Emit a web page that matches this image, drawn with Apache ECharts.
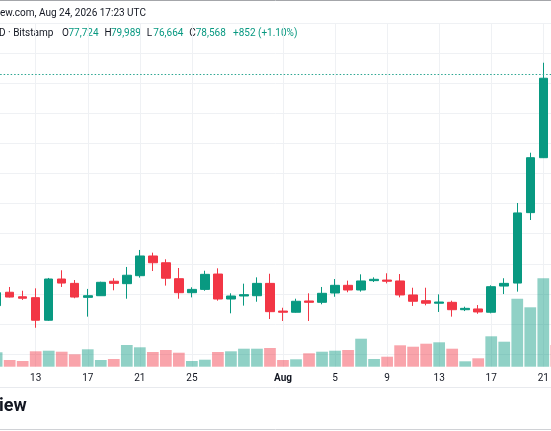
<!DOCTYPE html>
<html>
<head>
<meta charset="utf-8">
<script src="https://cdn.jsdelivr.net/npm/echarts/dist/echarts.min.js"></script>
<style>
  html, body { margin: 0; padding: 0; background: #fff; }
  #chart { width: 551px; height: 431px; }
</style>
</head>
<body>
<div id="chart"></div>
<script>
// ===== data =====
const days = [
  'Jul 10', 'Jul 11', 'Jul 12', 'Jul 13', 'Jul 14', 'Jul 15', 'Jul 16', 'Jul 17', 'Jul 18', 'Jul 19',
  'Jul 20', 'Jul 21', 'Jul 22', 'Jul 23', 'Jul 24', 'Jul 25', 'Jul 26', 'Jul 27', 'Jul 28', 'Jul 29',
  'Jul 30', 'Jul 31', 'Aug 1', 'Aug 2', 'Aug 3', 'Aug 4', 'Aug 5', 'Aug 6', 'Aug 7', 'Aug 8',
  'Aug 9', 'Aug 10', 'Aug 11', 'Aug 12', 'Aug 13', 'Aug 14', 'Aug 15', 'Aug 16', 'Aug 17', 'Aug 18',
  'Aug 19', 'Aug 20', 'Aug 21', 'Aug 22'
];

// [open, close, low, high]
const ohlc = [
  [63220, 64080, 63130, 64260],
  [64110, 63790, 63760, 64460],
  [63810, 63710, 63600, 64210],
  [63750, 62250, 61750, 64370],
  [62250, 64990, 62200, 65060],
  [64990, 64720, 64460, 65570],
  [64700, 63790, 63710, 64920],
  [63770, 63880, 62490, 64330],
  [63880, 64770, 63860, 64810],
  [64840, 64700, 64240, 65040],
  [64680, 65240, 63680, 65790],
  [65210, 66520, 65080, 66920],
  [66520, 66070, 65520, 66740],
  [66070, 65040, 64550, 66300],
  [65010, 64080, 63680, 65720],
  [64080, 64300, 63770, 64440],
  [64300, 65300, 64210, 65540],
  [65320, 63660, 63550, 65700],
  [63660, 63860, 62710, 64040],
  [63860, 63950, 63220, 64680],
  [63880, 64700, 63480, 65100],
  [64700, 62820, 62330, 65340],
  [62860, 62780, 62200, 63080],
  [62780, 63510, 62750, 63680],
  [63530, 63440, 62200, 64040],
  [63440, 64040, 63310, 64460],
  [64060, 64570, 63810, 64990],
  [64570, 64260, 64110, 64880],
  [64260, 64860, 64150, 65300],
  [64880, 64970, 64790, 65100],
  [64920, 64840, 64700, 65370],
  [64860, 63930, 63770, 65320],
  [63930, 63510, 63200, 64410],
  [63550, 63380, 63240, 64410],
  [63380, 63460, 62800, 63970],
  [63440, 62950, 62490, 63550],
  [62950, 63040, 62860, 63150],
  [63000, 62800, 62680, 63260],
  [62780, 64480, 62710, 64570],
  [64520, 64700, 63990, 65040],
  [64720, 69380, 64150, 70040],
  [69400, 73050, 68910, 73380],
  [73050, 78330, 73030, 79360],
  [79000, 78570, 76660, 79990]
];

const volume = [
  1440, 670, 570, 1540, 1600, 1500, 1240, 1740, 670, 770,
  2170, 1940, 1470, 1670, 1400, 570, 700, 1470, 1540, 1800,
  1800, 1870, 670, 740, 1340, 1500, 1600, 1670, 2800, 770,
  1000, 2140, 2000, 2300, 2440, 1800, 540, 840, 3040, 2500,
  6800, 5940, 8840, 2170
];

const tickDays = ['Jul 13', 'Jul 17', 'Jul 21', 'Jul 25', 'Aug 1', 'Aug 5', 'Aug 9', 'Aug 13', 'Aug 17', 'Aug 21'];
const tickLabels = ['13', '17', '21', '25', 'Aug', '5', '9', '13', '17', '21'];

const lastPrice = 78568;
const headerLine = 'ew.com, Aug 24, 2026 17:23 UTC';
const symbolText = 'D · Bitstamp';
const quoteKeys = ['O', 'H', 'L', 'C'];
const quoteValues = ['77,724', '79,989', '76,664', '78,568'];
const changeText = '+852 (+1.10%)';
const logoText = 'iew';

// ===== colours =====
const UP = '#089981';
const DOWN = '#f23645';
const UP_VOL = 'rgba(8,153,129,0.45)';
const DOWN_VOL = 'rgba(242,54,69,0.45)';
const TEXT = '#131722';
const GRID = '#eff1f4';
const FONT = 'Roboto, "Liberation Sans", sans-serif';

const chart = echarts.init(document.getElementById('chart'));

const volumeData = volume.map((v, i) => ({
  value: v,
  itemStyle: { color: ohlc[i][1] >= ohlc[i][0] ? UP_VOL : DOWN_VOL }
}));

const isTick = (idx, value) => tickDays.indexOf(value) >= 0;

// header / frame
const graphics = [
  { type: 'line', shape: { x1: 0, y1: 0.5, x2: 551, y2: 0.5 }, style: { stroke: '#a4a6aa', lineWidth: 1 }, z: 100 },
  { type: 'line', shape: { x1: 0, y1: 387.5, x2: 551, y2: 387.5 }, style: { stroke: '#e8eaee', lineWidth: 1 } },
  { type: 'line', shape: { x1: 0, y1: 429.5, x2: 551, y2: 429.5 }, style: { stroke: '#d0d2d6', lineWidth: 1 } },
  { type: 'text', left: 0, top: 8, style: { text: headerLine, fill: TEXT, font: '10px ' + FONT } },
  { type: 'text', left: -1, top: 28, style: { text: symbolText, fill: TEXT, font: '10px ' + FONT } },
  { type: 'text', left: 233, top: 28, style: { text: changeText, fill: UP, font: '10px ' + FONT } },
  { type: 'text', left: -1, top: 397, style: { text: logoText, fill: TEXT, font: 'bold 18px ' + FONT } }
];
quoteKeys.forEach((k, i) => {
  const x = 62 + i * 42.4;
  graphics.push({ type: 'text', left: x, top: 28, style: { text: k, fill: TEXT, font: '10px ' + FONT } });
  graphics.push({ type: 'text', left: x + 6.5, top: 28, style: { text: quoteValues[i], fill: UP, font: '10px ' + FONT } });
});

const option = {
  backgroundColor: '#ffffff',
  animation: false,
  graphic: graphics,
  grid: [
    { left: -3.35, right: -5.3, top: 23, bottom: 76.9, outerBoundsMode: 'none', containLabel: false },
    { left: -3.35, right: -5.3, top: 266.7, bottom: 64.3, outerBoundsMode: 'none', containLabel: false }
  ],
  xAxis: [
    {
      type: 'category', gridIndex: 0, data: days, boundaryGap: false,
      axisLine: { show: false }, axisTick: { show: false }, axisLabel: { show: false },
      splitLine: { show: true, interval: isTick, lineStyle: { color: GRID, width: 1 } }
    },
    {
      type: 'category', gridIndex: 1, data: days, boundaryGap: false,
      axisLine: { show: false }, axisTick: { show: false },
      splitLine: { show: true, interval: isTick, lineStyle: { color: GRID, width: 1 } },
      axisLabel: {
        interval: isTick, margin: 7, fontSize: 10, color: TEXT, fontFamily: FONT,
        formatter: v => {
          const lab = tickLabels[tickDays.indexOf(v)];
          return lab === 'Aug' ? '{b|Aug}' : lab;
        },
        rich: { b: { fontWeight: 'bold', fontSize: 10, color: TEXT, fontFamily: FONT } }
      }
    }
  ],
  yAxis: [
    {
      type: 'value', gridIndex: 0, position: 'right', min: 60000, max: 82000, interval: 2000,
      axisLine: { show: false }, axisTick: { show: false }, axisLabel: { show: false },
      splitLine: { show: true, lineStyle: { color: GRID, width: 1 } }
    },
    {
      type: 'value', gridIndex: 1, min: 0, max: 10000,
      axisLine: { show: false }, axisTick: { show: false }, axisLabel: { show: false },
      splitLine: { show: false }
    }
  ],
  series: [
    {
      type: 'bar', xAxisIndex: 1, yAxisIndex: 1, data: volumeData,
      barCategoryGap: '10%', clip: false, z: 1
    },
    {
      type: 'candlestick', xAxisIndex: 0, yAxisIndex: 0, data: ohlc,
      barWidth: 9, clip: false, z: 3,
      itemStyle: { color: UP, color0: DOWN, borderColor: UP, borderColor0: DOWN, borderWidth: 1 },
      markLine: {
        silent: true, symbol: ['none', 'none'], label: { show: false },
        lineStyle: { color: '#2aa590', type: [1.5, 2], width: 1.2, opacity: 1 },
        data: [{ yAxis: lastPrice }]
      }
    }
  ]
};

chart.setOption(option);
</script>
</body>
</html>
